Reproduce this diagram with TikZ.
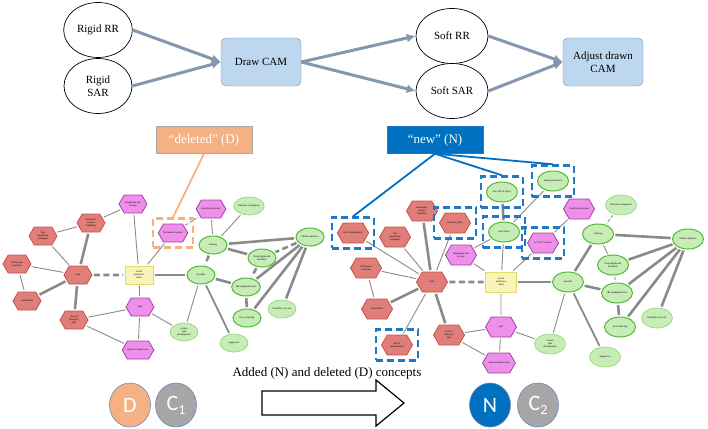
\documentclass[tikz,border=0pt]{standalone}
\usepackage{fontspec}
\setmainfont{Liberation Serif}
\newfontfamily\badgefont{Carlito}
\usepackage{tikz}
\usetikzlibrary{arrows.meta,shapes.geometric,shapes.symbols,fit}
\usepackage{xcolor}
\definecolor{redfill}{HTML}{E07F7A}
\definecolor{redline}{HTML}{C9504A}
\definecolor{pinkfill}{HTML}{EE90EA}
\definecolor{pinkline}{HTML}{A040A8}
\definecolor{greenfill}{HTML}{C5EDB5}
\definecolor{greenline}{HTML}{52B838}
\definecolor{lgreenline}{HTML}{96D682}
\definecolor{yellowfill}{HTML}{F8F4B8}
\definecolor{yellowline}{HTML}{E2DA6C}
\definecolor{edgegray}{HTML}{8A8A8A}
\definecolor{flowblue}{HTML}{8497B0}
\definecolor{boxblue}{HTML}{BDD7EE}
\definecolor{boxline}{HTML}{7F8FA3}
\definecolor{newblue}{HTML}{0070C0}
\definecolor{delorange}{HTML}{F4B183}
\definecolor{badgegray}{HTML}{A6A6A6}
\definecolor{dashblue}{HTML}{1F78C8}
\definecolor{badgeline}{HTML}{6E86B8}

\begin{document}
\begin{tikzpicture}[x=1pt, y=-1pt,
        stage/.style={draw=black, line width=0.7pt, ellipse, fill=white, minimum width=68pt, minimum height=55pt, align=center, font=\fontsize{11}{13}\selectfont},
        task/.style={draw=boxline, fill=boxblue, rounded corners=5pt, minimum width=80pt, minimum height=48pt, align=center, font=\fontsize{11}{13}\selectfont},
        flow/.style={draw=flowblue, line width=3pt, -{Latex[length=9pt,width=9pt]}},
        camsize/.style={minimum width=28pt, minimum height=18pt},
        riskhex/.style={signal, signal to=east and west, signal pointer angle=120, draw=redline, fill=redfill, line width=0.8pt, camsize, inner sep=0pt, align=center, font=\fontsize{2.6}{3}\selectfont},
        pinkhex/.style={riskhex, draw=pinkline, fill=pinkfill},
        concept/.style={ellipse, draw=greenline, fill=greenfill, line width=1pt, camsize, inner sep=0pt, align=center, font=\fontsize{2.6}{3}\selectfont},
        softconcept/.style={concept, draw=lgreenline, line width=0.7pt},
        robot/.style={rectangle, draw=yellowline, fill=yellowfill, line width=0.8pt, camsize, inner sep=0pt, align=center, font=\fontsize{2.6}{3}\selectfont},
        link/.style={draw=edgegray, line width=0.9pt, shorten <=1.5pt, shorten >=1.5pt},
        linkdash/.style={link, dash pattern=on 3pt off 2pt},
        strong/.style={link, line width=2.6pt},
        strongdash/.style={strong, dash pattern=on 6pt off 3.5pt},
        addbox/.style={draw=dashblue, line width=2.4pt, dash pattern=on 7pt off 4pt, inner sep=5pt},
        delbox/.style={addbox, draw=delorange},
        tag/.style={minimum width=96pt, minimum height=27pt, text=white, font=\fontsize{13}{15}\selectfont},
        badge/.style={ellipse, draw=badgeline, line width=0.6pt, minimum width=41pt, minimum height=44pt, text=white, font=\badgefont\fontsize{22}{24}\selectfont}
    ]
    \useasboundingbox (0,0) rectangle (708,428);

    % Ablauf oben
    \node[stage] (rrr) at (98,30) {Rigid RR};
    \node[stage] (rsar) at (98,86) {Rigid\\SAR};
    \node[task] (dcam) at (261,62) {Draw CAM};
    \node[stage, minimum width=72pt] (srr) at (452,36) {Soft RR};
    \node[stage, minimum width=72pt] (ssar) at (452,91) {Soft SAR};
    \node[task] (acam) at (603,62) {Adjust drawn\\CAM};
    \draw[flow] (rrr.east) -- (dcam.west);
    \draw[flow] (rsar.east) -- (dcam.west);
    \draw[flow] (dcam.east) -- (srr.west);
    \draw[flow] (dcam.east) -- (ssar.west);
    \draw[flow] (srr.east) -- (acam.west);
    \draw[flow] (ssar.east) -- (acam.west);

    % CAM links (C1)
    \node[robot] (lsar) at (139,275) {social\\assistance\\robot};
    \node[riskhex] (lrisk) at (78,275) {risks};
    \node[riskhex] (lunr) at (91,223) {unrealistic\\trained\\handling};
    \node[riskhex] (lnot) at (43,236) {Not\\empathetic\\(enough)};
    \node[riskhex] (lunf) at (17,264) {Unforeseen\\reactions};
    \node[riskhex] (luna) at (27,301) {unattached};
    \node[riskhex] (lloss) at (74,320) {Loss of\\therapist\\jobs};
    \node[pinkhex] (lint) at (133,204) {integration into\\society};
    \node[pinkhex] (lnhc) at (173,233) {No human contact};
    \node[pinkhex] (lsoc) at (211,209) {Social interactions};
    \node[softconcept] (lemo) at (249,206) {Emotion recognition};
    \node[concept] (ltra) at (213,245) {training};
    \node[concept] (linf) at (310,237) {infinite patience};
    \node[concept] (lnjf) at (262,258) {Non judgmental\\feedback};
    \node[concept] (lben) at (201,275) {benefits};
    \node[concept] (lrjf) at (246,287) {(Re-)judgment-free};
    \node[concept] (lfear) at (247,318) {Fear relieving};
    \node[softconcept] (ltry) at (282,309) {Possible to try out};
    \node[pinkhex] (ljobs) at (140,307) {jobs};
    \node[softconcept] (lcre) at (184,332) {creates\\jobs\\development};
    \node[softconcept] (lsup) at (234,343) {supportive};
    \node[pinkhex] (lrep) at (138,350) {replaces human care};

    \draw[link] (lint) -- (lunr);
    \draw[link] (lunr) -- (lnot);
    \draw[strong] (lunr) -- (lrisk);
    \draw[link] (lnot) -- (lrisk);
    \draw[link] (lunf) -- (lrisk);
    \draw[link] (lunf) -- (luna);
    \draw[strong] (luna) -- (lrisk);
    \draw[strongdash] (lrisk) -- (lsar);
    \draw[strong] (lrisk) -- (lloss);
    \draw[link] (lint) -- (lsar);
    \draw[link] (lnhc) -- (lsar);
    \draw[linkdash] (lnhc) -- (lsoc);
    \draw[link] (lsoc) -- (ltra);
    \draw[link] (lemo) -- (ltra);
    \draw[strong] (lsar) -- (lben);
    \draw[link] (lsar) -- (ljobs);
    \draw[strongdash] (ltra) -- (lben);
    \draw[strong] (ltra) -- (linf);
    \draw[strong] (ltra) -- (lnjf);
    \draw[strongdash] (linf) -- (lnjf);
    \draw[strong] (linf) -- (lrjf);
    \draw[strong] (linf) -- (lfear);
    \draw[strong] (linf) -- (ltry);
    \draw[strongdash] (lnjf) -- (lrjf);
    \draw[strong] (lben) -- (lrjf);
    \draw[strong] (lrjf) -- (lfear);
    \draw[link] (lben) -- (lcre);
    \draw[strong, line width=1.8pt] (lben) -- (lsup);
    \draw[link] (ljobs) -- (lloss);
    \draw[link] (ljobs) -- (lrep);
    \draw[link] (ljobs) -- (lcre);
    \draw[link] (lloss) -- (lrep);

    % CAM rechts (C2)
    \begin{scope}[camsize/.style={minimum width=31pt, minimum height=20pt}]
    \node[robot] (rsr) at (501,282) {social\\assistance\\robot};
    \node[riskhex] (rrisk) at (432,282) {risks};
    \node[riskhex] (runr) at (422,211) {unrealistic\\trained\\handling};
    \node[riskhex] (runc) at (455,223) {uncanny valley};
    \node[riskhex] (rdep) at (353,233) {risk of dependency};
    \node[riskhex] (rnot) at (395,237) {Not\\empathetic\\(enough)};
    \node[riskhex] (runf) at (366,268) {Unforeseen\\reactions};
    \node[riskhex] (runa) at (377,309) {unattached};
    \node[riskhex] (rloss) at (449,335) {Loss of\\therapist\\jobs};
    \node[riskhex] (rman) at (397,345) {risk of\\manipulation};
    \node[pinkhex] (rint) at (461,255) {integration into\\society};
    \node[concept] (rlow) at (502,192) {low risk of injury};
    \node[concept] (rmut) at (553,181) {mutual protection};
    \node[concept] (rsafe) at (504,232) {safe robots};
    \node[pinkhex] (rreal) at (543,243) {no “real” contact};
    \node[pinkhex] (rsoc) at (579,209) {Social interactions};
    \node[softconcept] (remo) at (621,205) {Emotion recognition};
    \node[concept] (rtra) at (598,234) {training};
    \node[concept] (rinf) at (688,239) {infinite patience};
    \node[concept] (rnjf) at (613,265) {Non judgmental\\feedback};
    \node[concept] (rben) at (568,282) {benefits};
    \node[concept] (rrjf) at (617,293) {(Re-)judgment-free};
    \node[concept] (rfear) at (620,327) {Fear relieving};
    \node[softconcept] (rtry) at (657,318) {Possible to try out};
    \node[pinkhex] (rjobs) at (501,327) {jobs};
    \node[pinkhex] (rrep) at (499,363) {replaces human care};
    \node[softconcept] (rcre) at (550,344) {creates\\jobs\\development};
    \node[softconcept] (rsup) at (605,357) {supportive};
    \end{scope}

    \draw[strong] (rlow) -- (rsafe);
    \draw[link] (rmut) -- (rsafe);
    \draw[link] (rsafe) -- (rsr);
    \draw[link] (rsafe) -- (rint);
    \draw[link] (rreal) -- (rsr);
    \draw[link] (rsoc) -- (rreal);
    \draw[linkdash] (remo) -- (rtra);
    \draw[strong] (rtra) -- (rinf);
    \draw[link] (rtra) -- (rnjf);
    \draw[strong] (rtra) -- (rben);
    \draw[strong] (rinf) -- (rnjf);
    \draw[strong] (rinf) -- (rrjf);
    \draw[strong] (rinf) -- (rfear);
    \draw[strong] (rinf) -- (rtry);
    \draw[linkdash] (rnjf) -- (rrjf);
    \draw[strong] (rben) -- (rrjf);
    \draw[strong] (rrjf) -- (rfear);
    \draw[strong] (rsr) -- (rben);
    \draw[strongdash] (rrisk) -- (rsr);
    \draw[link] (rint) -- (rsr);
    \draw[link] (rsr) -- (rjobs);
    \draw[link] (rrisk) -- (rdep);
    \draw[strong] (rrisk) -- (runr);
    \draw[link] (rrisk) -- (runc);
    \draw[link] (rrisk) -- (rnot);
    \draw[link] (rrisk) -- (runf);
    \draw[strong] (rrisk) -- (runa);
    \draw[link] (runf) -- (runa);
    \draw[link] (rrisk) -- (rman);
    \draw[strong] (rrisk) -- (rloss);
    \draw[link] (rloss) -- (rjobs);
    \draw[link] (rloss) -- (rrep);
    \draw[link] (rjobs) -- (rrep);
    \draw[link] (rjobs) -- (rcre);
    \draw[link] (rben) -- (rcre);
    \draw[strong, line width=1.8pt] (rben) -- (rsup);

    % markierte Konzepte
    \node[delbox, fit=(lnhc)] (blnhc) {};
    \node[addbox, fit=(rdep)] (bdep) {};
    \node[addbox, fit=(runc)] (bunc) {};
    \node[addbox, fit=(rlow)] (blow) {};
    \node[addbox, fit=(rmut)] (bmut) {};
    \node[addbox, fit=(rsafe)] (bsafe) {};
    \node[addbox, fit=(rreal)] (breal) {};
    \node[addbox, fit=(rman)] (bman) {};

    \node[tag, fill=delorange, draw=badgegray] (tdel) at (204,140) {“deleted” (D)};
    \node[tag, fill=newblue, draw=dashblue] (tnew) at (435,140) {“new” (N)};
    \draw[delorange, line width=1.8pt] (tdel.south) -- (blnhc.north);
    \draw[newblue, line width=1.8pt] (tnew.south) -- (bdep.north);
    \draw[newblue, line width=1.8pt] (tnew.south) -- (blow.north);
    \draw[newblue, line width=1.8pt] (tnew.south) -- (bmut.north);

    % unten
    \node[font=\fontsize{13}{15}\selectfont] (cap) at (327,373) {Added (N) and deleted (D) concepts};
    \draw[black, line width=1.2pt, fill=white] (262,391) -- (376,391) -- (376,380) -- (404,403)
        -- (376,426) -- (376,415) -- (262,415) -- cycle;
    \node[badge, fill=delorange] (bd) at (130,405) {D};
    \node[badge, fill=badgegray] (bc1) at (176,405) {C\raisebox{-4pt}{\fontsize{14}{14}\selectfont 1}};
    \node[badge, fill=newblue] (bn) at (490,405) {N};
    \node[badge, fill=badgegray] (bc2) at (538,405) {C\raisebox{-4pt}{\fontsize{14}{14}\selectfont 2}};
\end{tikzpicture}
\end{document}
